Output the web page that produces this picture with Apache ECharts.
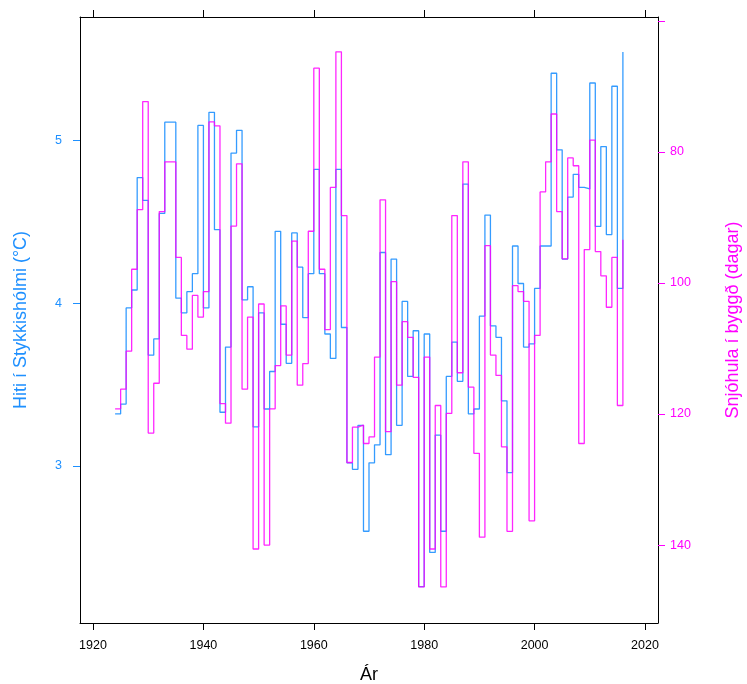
<!DOCTYPE html>
<html>
<head>
<meta charset="utf-8">
<script src="https://cdn.jsdelivr.net/npm/echarts@6/dist/echarts.min.js"></script>
<style>
html,body{margin:0;padding:0;background:#fff;}
#c{width:747px;height:684px;}
</style>
</head>
<body>
<div id="c"></div>
<script>
// ---- data ----
const firstYear = 1924;
const temp = [
 3.32,3.38,3.97,4.08,4.77,4.63,3.68,3.78,4.55,5.11,
 5.11,4.03,3.94,4.07,4.18,5.09,3.97,5.17,4.45,3.33,
 3.73,4.92,5.06,4.02,4.10,3.24,3.94,3.35,3.58,4.44,
 3.87,3.63,4.43,4.22,3.91,4.18,4.82,4.18,3.81,3.66,
 4.82,3.85,3.02,2.98,3.25,2.60,3.02,3.13,4.31,3.07,
 4.27,3.25,4.01,3.55,3.83,2.26,3.81,2.47,3.19,2.60,
 3.55,3.76,3.52,4.73,3.32,3.35,3.92,4.54,3.86,3.79,
 3.40,2.96,4.35,4.12,3.73,3.75,4.09,4.35,4.35,5.41,
 4.94,4.27,4.65,4.79,4.71,4.70,5.35,4.47,4.96,4.42,
 5.33,4.09,5.54
];
const snow = [
 119.2,116.2,110.4,97.9,88.8,72.3,122.9,115.3,89.1,81.5,
 81.5,96.1,108.0,110.1,101.9,105.2,101.3,75.4,76.0,118.4,
 121.4,91.3,81.8,116.2,105.2,140.6,103.2,140.0,119.2,112.6,
 103.5,111.0,93.6,115.6,112.3,92.1,67.2,97.9,107.1,85.4,
 64.7,89.7,127.4,122.0,121.7,124.5,123.5,111.3,87.3,122.7,
 99.8,115.6,105.9,108.3,114.4,146.4,111.3,140.6,118.7,146.4,
 119.9,89.7,113.7,81.5,115.9,126.0,138.8,94.3,111.0,114.1,
 125.0,137.9,100.4,101.3,102.8,136.3,108.0,86.1,81.5,74.2,
 89.1,96.3,80.9,82.1,124.5,94.9,78.2,95.2,98.9,103.7,
 96.1,118.7,93.4
];
const years = temp.map((_, i) => firstYear + i);
const xTicks = [1920, 1940, 1960, 1980, 2000, 2020];
const leftTicks = [3, 4, 5];
const rightTicks = [60, 80, 100, 120, 140];
const rightLabels = [80, 100, 120, 140];
const xTitle = 'Ár';
const leftTitle = 'Hiti í Stykkishólmi (°C)';
const rightTitle = 'Snjóhula í byggð (dagar)';

const BLUE = '#1E90FF';
const MAG = '#FF00FF';
const FONT = '"Liberation Sans", Arial, Helvetica, sans-serif';

const chart = echarts.init(document.getElementById('c'), null, {renderer: 'canvas'});

const xCommon = {
  type: 'value', min: 1917.64, max: 2022.36,
  splitLine: {show: false},
  axisLine: {show: true, onZero: false, lineStyle: {color: '#000', width: 1}},
  axisTick: {show: true, length: 7, inside: false, customValues: xTicks, lineStyle: {color: '#000', width: 1}},
};
const plain = v => String(v);

const option = {
  animation: false,
  backgroundColor: '#fff',
  grid: {left: 80, right: 89, top: 17, bottom: 61, containLabel: false},
  xAxis: [
    Object.assign({}, xCommon, {
      position: 'bottom',
      axisLabel: {show: true, customValues: xTicks, formatter: plain, color: '#000', fontSize: 12.5, fontFamily: FONT, margin: 16}
    }),
    Object.assign({}, xCommon, {
      position: 'top',
      axisLabel: {show: false}
    })
  ],
  yAxis: [
    {
      type: 'value', position: 'left', min: 2.037, max: 5.755,
      splitLine: {show: false},
      axisLine: {show: true, onZero: false, lineStyle: {color: '#000', width: 1}},
      axisTick: {show: true, length: 7, customValues: leftTicks, lineStyle: {color: BLUE, width: 1}},
      axisLabel: {show: true, customValues: leftTicks, formatter: plain, color: BLUE, fontSize: 12.5, fontFamily: FONT, margin: 18}
    },
    {
      type: 'value', position: 'right', min: 59.39, max: 151.9, inverse: true,
      splitLine: {show: false},
      axisLine: {show: true, onZero: false, lineStyle: {color: '#000', width: 1}},
      axisTick: {show: true, length: 7, customValues: rightTicks, lineStyle: {color: MAG, width: 1}},
      axisLabel: {show: true, customValues: rightLabels, formatter: plain, color: MAG, fontSize: 12.5, fontFamily: FONT, margin: 12}
    }
  ],
  graphic: [
    {type: 'text', x: 21, y: 320, rotation: Math.PI / 2,
     style: {text: leftTitle, fill: BLUE, font: '18px ' + FONT, align: 'center', verticalAlign: 'middle'}},
    {type: 'text', x: 733, y: 320, rotation: Math.PI / 2,
     style: {text: rightTitle, fill: MAG, font: '18px ' + FONT, align: 'center', verticalAlign: 'middle'}},
    {type: 'text', x: 369, y: 675,
     style: {text: xTitle, fill: '#000', font: '18px ' + FONT, align: 'center', verticalAlign: 'middle'}}
  ],
  series: [
    {
      name: 'Hiti', type: 'line', step: 'end', xAxisIndex: 0, yAxisIndex: 0,
      data: years.map((y, i) => [y, temp[i]]),
      showSymbol: false, symbol: 'none',
      lineStyle: {color: BLUE, width: 1.3, opacity: 0.9},
      z: 2
    },
    {
      name: 'Snjóhula', type: 'line', step: 'end', xAxisIndex: 0, yAxisIndex: 1,
      data: years.map((y, i) => [y, snow[i]]),
      showSymbol: false, symbol: 'none',
      lineStyle: {color: MAG, width: 1.3, opacity: 0.85},
      z: 3
    }
  ]
};
chart.setOption(option);
</script>
</body>
</html>
